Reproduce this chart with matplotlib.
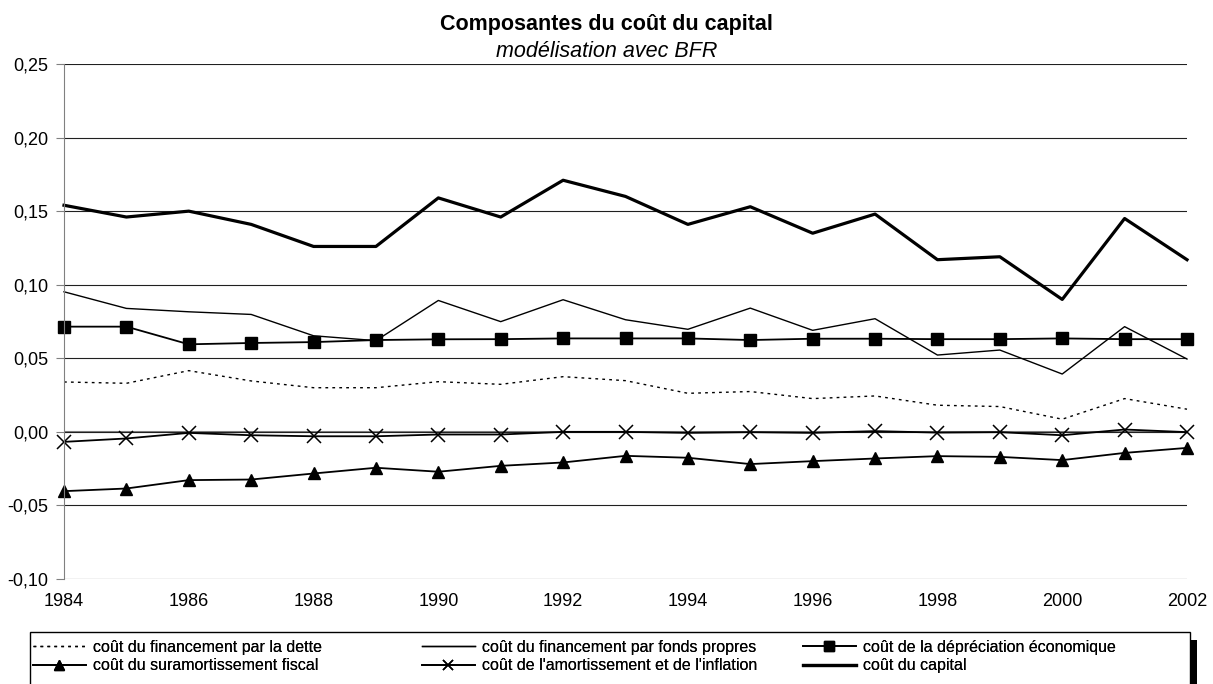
"""Composantes du coût du capital - modélisation avec BFR."""

import matplotlib

matplotlib.use("Agg")

import matplotlib.pyplot as plt
from matplotlib.patches import Rectangle
from matplotlib.ticker import FuncFormatter, MultipleLocator

plt.rcParams["font.family"] = ["Liberation Sans", "DejaVu Sans"]

years = list(range(1984, 2003))

dette = [0.0339, 0.0330, 0.0416, 0.0346, 0.0300, 0.0300, 0.0341, 0.0323, 0.0375, 0.0348,
         0.0262, 0.0274, 0.0226, 0.0244, 0.0181, 0.0172, 0.0086, 0.0226, 0.0154]
fonds_propres = [0.0952, 0.0839, 0.0816, 0.0798, 0.0653, 0.0620, 0.0893, 0.0749, 0.0898, 0.0762,
                 0.0697, 0.0841, 0.0690, 0.0769, 0.0522, 0.0556, 0.0393, 0.0715, 0.0495]
depreciation = [0.0715, 0.0715, 0.0595, 0.0604, 0.0610, 0.0624, 0.0629, 0.0630, 0.0635, 0.0635,
                0.0635, 0.0624, 0.0633, 0.0633, 0.0630, 0.0630, 0.0635, 0.0630, 0.0630]
suramortissement = [-0.0403, -0.0385, -0.0328, -0.0324, -0.0283, -0.0244, -0.0271, -0.0231, -0.0208, -0.0163,
                    -0.0176, -0.0219, -0.0199, -0.0181, -0.0165, -0.0170, -0.0192, -0.0143, -0.0109]
amort_inflation = [-0.0068, -0.0045, -0.0007, -0.0023, -0.0030, -0.0030, -0.0018, -0.0018, 0.0000, 0.0000,
                   -0.0007, -0.0002, -0.0007, 0.0005, -0.0005, -0.0002, -0.0023, 0.0016, -0.0002]
capital = [0.154, 0.146, 0.150, 0.141, 0.126, 0.126, 0.159, 0.146, 0.171, 0.160,
           0.141, 0.153, 0.135, 0.148, 0.117, 0.119, 0.090, 0.145, 0.117]

labels = [
    "coût du financement par la dette",
    "coût du financement par fonds propres",
    "coût de la dépréciation économique",
    "coût du suramortissement fiscal",
    "coût de l'amortissement et de l'inflation",
    "coût du capital",
]

W, H = 1213, 684
fig = plt.figure(figsize=(W / 100, H / 100), dpi=100)
ax = fig.add_axes([64 / W, 1 - 579 / H, (1187 - 64) / W, (579 - 64) / H])

l_dette, = ax.plot(years, dette, color="black", lw=1.0, ls=(0, (2, 3)), clip_on=False)
l_fp, = ax.plot(years, fonds_propres, color="black", lw=1.0, clip_on=False)
l_dep, = ax.plot(years, depreciation, color="black", lw=1.3, marker="s", ms=9, clip_on=False)
l_sur, = ax.plot(years, suramortissement, color="black", lw=1.3, marker="^", ms=9, clip_on=False)
l_am, = ax.plot(years, amort_inflation, color="black", lw=1.3, marker="x", ms=10, mew=1.1, clip_on=False)
l_cap, = ax.plot(years, capital, color="black", lw=2.3, clip_on=False)

ax.set_xlim(1984, 2002)
ax.set_ylim(-0.10, 0.25)
ax.yaxis.set_major_locator(MultipleLocator(0.05))
ax.xaxis.set_major_locator(MultipleLocator(2))
ax.yaxis.set_major_formatter(FuncFormatter(lambda v, _: f"{v:.2f}".replace(".", ",").replace("-0,00", "0,00")))
ax.grid(axis="y", color="#202020", lw=0.8)
ax.axhline(0, color="#808080", lw=1.5, zorder=1)
for side in ["top", "right", "bottom"]:
    ax.spines[side].set_visible(False)
ax.spines["left"].set_color("#808080")
ax.tick_params(axis="y", length=6, color="#808080", labelsize=13, pad=5)
ax.tick_params(axis="x", length=0, labelsize=13, pad=10)

fig.text(0.5, 1 - 30 / H, "Composantes du coût du capital", ha="center", va="baseline",
         fontsize=15.5, fontweight="bold")
fig.text(0.5, 1 - 57 / H, "modélisation avec BFR", ha="center", va="baseline",
         fontsize=15.5, style="italic")

# cadre de la légende (coupé en bas comme dans l'original)
fig.patches.append(Rectangle((30 / W, -0.02), (1190 - 30) / W, 0.02 + 1 - 632 / H,
                             transform=fig.transFigure, fill=False, edgecolor="black", lw=1.0))
fig.patches.append(Rectangle((1190 / W, -0.02), 7 / W, 0.02 + 1 - 640 / H,
                             transform=fig.transFigure, facecolor="black", edgecolor="none"))

columns = [
    (33, [l_dette, l_sur], [labels[0], labels[3]]),
    (422, [l_fp, l_am], [labels[1], labels[4]]),
    (803, [l_dep, l_cap], [labels[2], labels[5]]),
]
for x0, hs, ls in columns:
    leg = fig.legend(hs, ls, loc="upper left", bbox_to_anchor=(x0 / W, 1 - 640 / H),
                     fontsize=11.5, frameon=False, handlelength=3.3, handletextpad=0.45,
                     borderpad=0, borderaxespad=0, labelspacing=0.2, markerscale=0.75)
    fig.add_artist(leg)

fig.savefig("out.png", dpi=100)
